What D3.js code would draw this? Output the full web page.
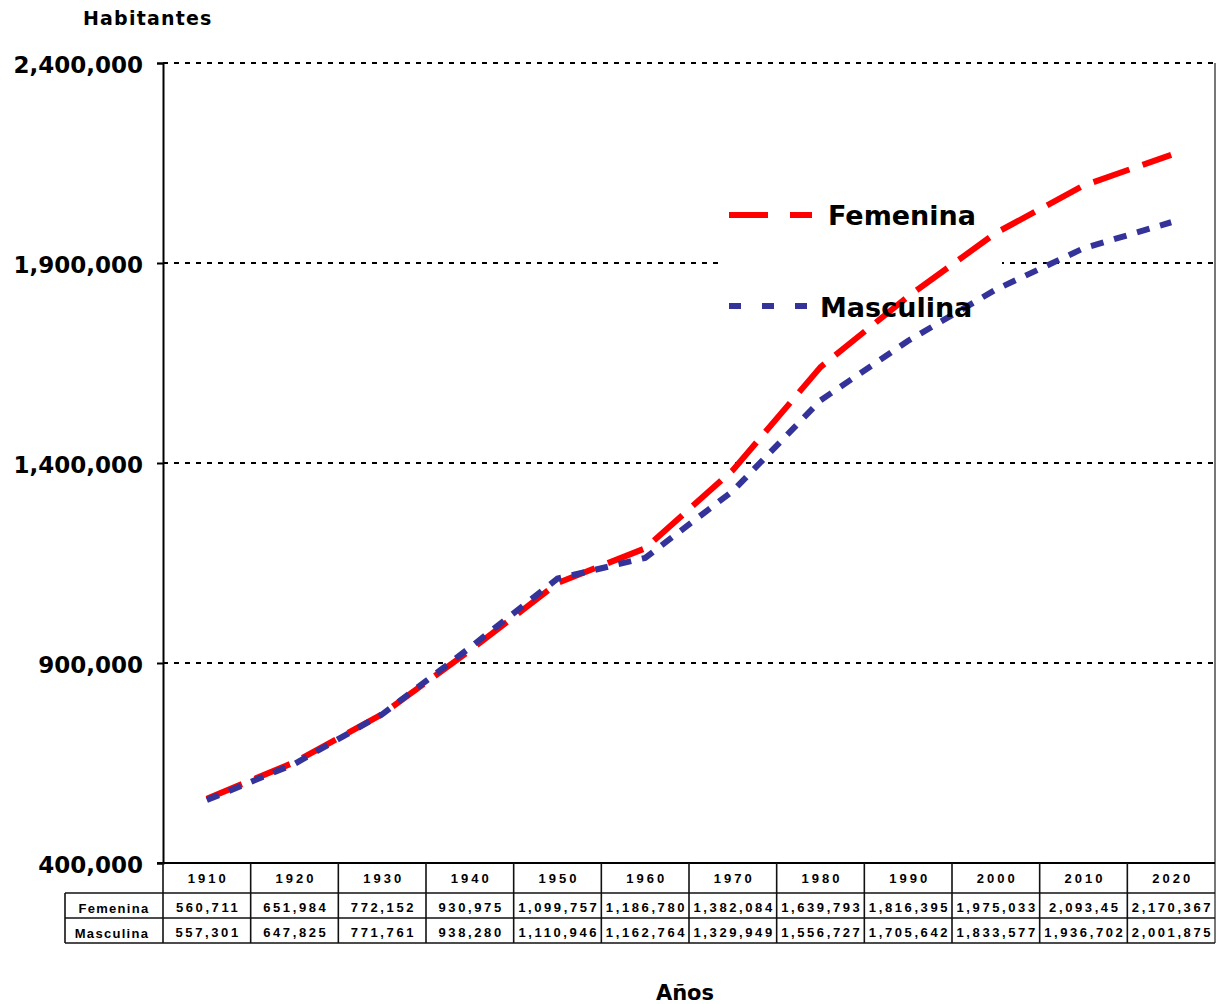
<!DOCTYPE html>
<html>
<head>
<meta charset="utf-8">
<script src="https://cdn.jsdelivr.net/npm/d3@7"></script>
<style>
  html, body { margin: 0; padding: 0; background: #fff; }
  svg { display: block; }
</style>
</head>
<body>
<svg id="chart" width="1228" height="1004"></svg>
<script>
const years = ["1910","1920","1930","1940","1950","1960","1970","1980","1990","2000","2010","2020"];
const femenina = [560711, 651984, 772152, 930975, 1099757, 1186780, 1382084, 1639793, 1816395, 1975033, 2093450, 2170367];
const masculina = [557301, 647825, 771761, 938280, 1110946, 1162764, 1329949, 1556727, 1705642, 1833577, 1936702, 2001875];
const femeninaLabels = ["560,711","651,984","772,152","930,975","1,099,757","1,186,780","1,382,084","1,639,793","1,816,395","1,975,033","2,093,45","2,170,367"];
const masculinaLabels = ["557,301","647,825","771,761","938,280","1,110,946","1,162,764","1,329,949","1,556,727","1,705,642","1,833,577","1,936,702","2,001,875"];
const yTicks = [400000, 900000, 1400000, 1900000, 2400000];
const seriesNames = ["Femenina", "Masculina"];

const svg = d3.select("#chart");
const L = 163, R = 1215, T = 63, B = 863;
const x = d3.scaleBand().domain(years).range([L, R]);
const xc = d => x(d) + x.bandwidth() / 2;
const y = d3.scaleLinear().domain([400000, 2400000]).range([B, T]);

const bold = "'DejaVu Sans', Verdana, sans-serif";
const arial = "'Liberation Sans', Arial, sans-serif";

// gridlines
svg.append("g").selectAll("line").data(yTicks.filter(t => t > 400000)).join("line")
  .attr("x1", L).attr("x2", R - 2)
  .attr("y1", d => y(d)).attr("y2", d => y(d))
  .attr("stroke", "#000").attr("stroke-width", 2)
  .attr("stroke-dasharray", "5,6");

// legend background
svg.append("rect").attr("x", 718).attr("y", 175).attr("width", 284).attr("height", 160).attr("fill", "#fff");

// right border
svg.append("line").attr("x1", R).attr("x2", R).attr("y1", T).attr("y2", 943)
  .attr("stroke", "#777").attr("stroke-width", 2);

// y axis
const yAxis = d3.axisLeft(y).tickValues(yTicks).tickSize(6).tickPadding(14)
  .tickFormat(d3.format(",.0f"));
const gy = svg.append("g").attr("transform", `translate(${L},0)`).call(yAxis);
gy.select(".domain").attr("stroke", "#000").attr("stroke-width", 2);
gy.selectAll(".tick line").attr("stroke", "#000").attr("stroke-width", 2);
gy.selectAll(".tick text").attr("font-family", bold).attr("font-weight", "bold")
  .attr("font-size", 23).attr("fill", "#000").attr("dy", "0.4em");

// bottom axis line
svg.append("line").attr("x1", L - 6).attr("x2", R).attr("y1", B).attr("y2", B)
  .attr("stroke", "#000").attr("stroke-width", 2);

// lines
const line = d3.line().x((d, i) => xc(years[i])).y(d => y(d));
svg.append("path").datum(femenina).attr("d", line)
  .attr("fill", "none").attr("stroke", "#FF0000").attr("stroke-width", 6)
  .attr("stroke-dasharray", "38,14");
svg.append("path").datum(masculina).attr("d", line)
  .attr("fill", "none").attr("stroke", "#333399").attr("stroke-width", 6)
  .attr("stroke-dasharray", "13,11");

// legend
const lg = svg.append("g");
lg.append("line").attr("x1", 729).attr("x2", 812).attr("y1", 215).attr("y2", 215)
  .attr("stroke", "#FF0000").attr("stroke-width", 6).attr("stroke-dasharray", "39,22");
lg.append("line").attr("x1", 729).attr("x2", 808).attr("y1", 306).attr("y2", 306)
  .attr("stroke", "#333399").attr("stroke-width", 6).attr("stroke-dasharray", "12,21");
lg.append("text").attr("x", 828).attr("y", 225).text(seriesNames[0])
  .attr("font-family", bold).attr("font-weight", "bold").attr("font-size", 27).attr("fill", "#000");
lg.append("text").attr("x", 820).attr("y", 317).text(seriesNames[1])
  .attr("font-family", bold).attr("font-weight", "bold").attr("font-size", 27).attr("fill", "#000");

// titles
svg.append("text").attr("x", 83).attr("y", 25).text("Habitantes")
  .attr("font-family", bold).attr("font-weight", "bold").attr("font-size", 19)
  .attr("letter-spacing", 1.2).attr("fill", "#000");
svg.append("text").attr("x", 685).attr("y", 1000).attr("text-anchor", "middle").text("Años")
  .attr("font-family", bold).attr("font-weight", "bold").attr("font-size", 21).attr("fill", "#000");

// data table
const tb = svg.append("g");
const rowY = [863, 893, 918, 943];
const lineStyle = s => s.attr("stroke", "#111").attr("stroke-width", 1.6);
// horizontal lines
tb.append("line").attr("x1", L).attr("x2", R).attr("y1", rowY[1]).attr("y2", rowY[1]).call(lineStyle);
tb.append("line").attr("x1", 65).attr("x2", L).attr("y1", rowY[1]).attr("y2", rowY[1]).call(lineStyle);
tb.append("line").attr("x1", 65).attr("x2", R).attr("y1", rowY[2]).attr("y2", rowY[2]).call(lineStyle);
tb.append("line").attr("x1", 65).attr("x2", R).attr("y1", rowY[3]).attr("y2", rowY[3]).call(lineStyle);
// vertical lines
tb.append("line").attr("x1", 65).attr("x2", 65).attr("y1", rowY[1]).attr("y2", rowY[3]).call(lineStyle);
tb.selectAll("line.v").data(years).join("line").attr("class", "v")
  .attr("x1", d => x(d)).attr("x2", d => x(d)).attr("y1", B).attr("y2", rowY[3]).call(lineStyle);

const cellText = (sel) => sel.attr("font-family", arial).attr("font-weight", "bold")
  .attr("font-size", 13).attr("fill", "#000").attr("text-anchor", "middle");
tb.selectAll("text.yr").data(years).join("text").attr("class", "yr")
  .attr("x", d => xc(d) + 1.5).attr("y", 883).text(d => d).call(cellText).attr("letter-spacing", 3);
tb.selectAll("text.fe").data(femeninaLabels).join("text").attr("class", "fe")
  .attr("x", (d, i) => xc(years[i]) + 1.3).attr("y", 912).text(d => d).call(cellText).attr("letter-spacing", 2.6);
tb.selectAll("text.ma").data(masculinaLabels).join("text").attr("class", "ma")
  .attr("x", (d, i) => xc(years[i]) + 1.3).attr("y", 937).text(d => d).call(cellText).attr("letter-spacing", 2.6);
tb.append("text").attr("x", 114).attr("y", 913).text(seriesNames[0]).call(cellText).attr("letter-spacing", 1.3);
tb.append("text").attr("x", 112).attr("y", 938).text(seriesNames[1]).call(cellText).attr("letter-spacing", 1.3);
</script>
</body>
</html>
